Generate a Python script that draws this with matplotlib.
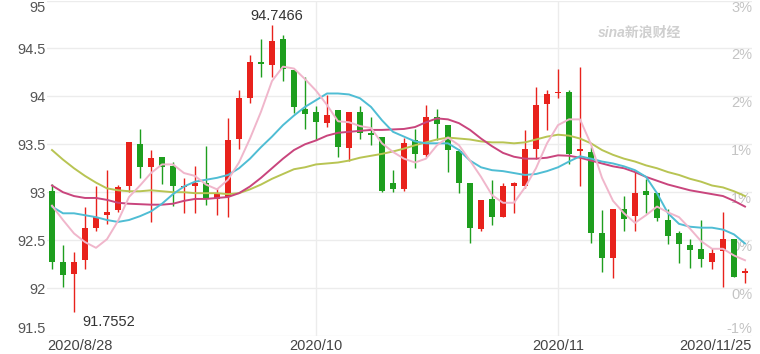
import matplotlib
matplotlib.use("Agg")
import matplotlib.pyplot as plt
from matplotlib.transforms import ScaledTranslation

plt.rcParams['font.family'] = ['Liberation Sans', 'Noto Sans CJK SC', 'DejaVu Sans']

# ---- data ----
opens = [93.01, 92.27, 92.15, 92.29, 92.63, 92.76, 92.81, 93.06, 93.50, 93.26,
         93.37, 93.27, 93.05, 93.07, 93.10, 92.93, 92.95, 93.55, 93.98, 94.36,
         94.33, 94.60, 94.28, 93.87, 93.84, 93.72, 93.86, 93.46, 93.84, 93.62,
         93.58, 93.10, 93.03, 93.54, 93.39, 93.78, 93.70, 93.43, 93.10, 92.62,
         92.93, 92.74, 93.07, 93.06, 93.45, 93.92, 94.03, 94.05, 93.43, 93.42,
         92.57, 92.31, 92.83, 92.75, 93.01, 92.99, 92.71, 92.57, 92.45, 92.41,
         92.27, 92.39, 92.51, 92.16]
closes = [92.27, 92.14, 92.27, 92.63, 92.74, 92.79, 93.05, 93.52, 93.26, 93.36,
          93.26, 93.06, 93.07, 93.10, 92.93, 92.99, 93.54, 93.98, 94.36, 94.34,
          94.58, 94.29, 93.89, 93.82, 93.73, 93.81, 93.47, 93.84, 93.62, 93.60,
          93.01, 93.03, 93.51, 93.40, 93.78, 93.71, 93.44, 93.10, 92.63, 92.92,
          92.74, 93.06, 93.10, 93.45, 93.91, 94.02, 94.04, 93.40, 93.45, 92.57,
          92.31, 92.83, 92.72, 92.99, 92.97, 92.73, 92.54, 92.46, 92.40, 92.30,
          92.37, 92.51, 92.12, 92.17]
highs = [93.09, 92.45, 92.38, 92.85, 93.06, 93.23, 93.08, 93.52, 93.66, 93.44,
         93.37, 93.31, 93.15, 93.27, 93.48, 93.04, 93.77, 94.07, 94.43, 94.60,
         94.7466, 94.64, 94.28, 94.20, 93.90, 94.01, 93.86, 93.84, 93.90, 93.78,
         93.58, 93.23, 93.57, 93.66, 93.91, 93.87, 93.70, 93.45, 93.10, 92.92,
         93.125, 93.10, 93.11, 93.65, 94.10, 94.07, 94.29, 94.07, 94.31, 93.47,
         92.81, 92.83, 92.96, 93.21, 93.14, 92.99, 92.83, 92.60, 92.51, 92.71,
         92.42, 92.79, 92.51, 92.21]
lows = [92.20, 92.01, 91.7552, 92.20, 92.60, 92.67, 92.79, 93.00, 93.15, 92.69,
        93.09, 92.86, 92.78, 92.78, 92.87, 92.76, 92.74, 93.45, 93.93, 94.20,
        94.20, 94.16, 93.83, 93.66, 93.54, 93.68, 93.37, 93.33, 93.56, 93.49,
        93.00, 93.00, 93.01, 93.25, 93.37, 93.54, 93.21, 92.99, 92.47, 92.60,
        92.66, 92.74, 92.78, 93.04, 93.35, 93.65, 93.98, 93.29, 93.06, 92.47,
        92.17, 92.11, 92.60, 92.60, 92.78, 92.70, 92.46, 92.26, 92.21, 92.22,
        92.20, 92.01, 92.12, 92.05]

ma5 = [92.86, 92.71, 92.57, 92.48, 92.42, 92.51, 92.70, 92.95, 93.07, 93.20,
       93.29, 93.29, 93.20, 93.17, 93.08, 93.03, 93.13, 93.31, 93.56, 93.84,
       94.16, 94.31, 94.29, 94.18, 94.06, 93.91, 93.74, 93.73, 93.69, 93.67,
       93.51, 93.42, 93.35, 93.31, 93.35, 93.49, 93.57, 93.49, 93.33, 93.16,
       92.97, 92.89, 92.89, 93.05, 93.25, 93.51, 93.70, 93.76, 93.76, 93.50,
       93.15, 92.91, 92.78, 92.68, 92.76, 92.85, 92.79, 92.74, 92.62, 92.49,
       92.41, 92.41, 92.34, 92.29]
ma10 = [92.85, 92.78, 92.78, 92.76, 92.74, 92.71, 92.69, 92.71, 92.75, 92.80,
        92.88, 92.98, 93.06, 93.11, 93.13, 93.15, 93.18, 93.25, 93.35, 93.47,
        93.58, 93.70, 93.80, 93.89, 93.96, 94.03, 94.03, 94.02, 93.98, 93.89,
        93.75, 93.63, 93.58, 93.53, 93.51, 93.51, 93.51, 93.44, 93.33, 93.26,
        93.23, 93.22, 93.20, 93.18, 93.19, 93.22, 93.26, 93.32, 93.375, 93.35,
        93.32, 93.30, 93.27, 93.23, 93.16, 92.99, 92.78, 92.67, 92.64, 92.63,
        92.63, 92.61, 92.56, 92.465]
ma20 = [93.07, 93.00, 92.96, 92.94, 92.94, 92.92, 92.89, 92.88, 92.875, 92.87,
        92.87, 92.88, 92.91, 92.93, 92.93, 92.94, 92.95, 92.99, 93.06, 93.15,
        93.25, 93.35, 93.44, 93.50, 93.54, 93.59, 93.62, 93.63, 93.64, 93.65,
        93.65, 93.655, 93.66, 93.68, 93.73, 93.77, 93.76, 93.72, 93.65, 93.56,
        93.48, 93.41, 93.37, 93.35, 93.35, 93.36, 93.385, 93.38, 93.36, 93.33,
        93.30, 93.27, 93.25, 93.21, 93.16, 93.12, 93.08, 93.05, 93.02, 93.00,
        92.98, 92.96, 92.91, 92.85]
ma30 = [93.44, 93.34, 93.25, 93.17, 93.10, 93.04, 93.02, 93.01, 93.01, 93.02,
        93.01, 93.00, 93.00, 92.99, 92.99, 92.99, 92.98, 92.99, 93.03, 93.08,
        93.14, 93.19, 93.24, 93.26, 93.29, 93.30, 93.31, 93.33, 93.36, 93.38,
        93.40, 93.425, 93.455, 93.49, 93.52, 93.55, 93.57, 93.56, 93.55, 93.53,
        93.52, 93.52, 93.51, 93.52, 93.55, 93.58, 93.60, 93.59, 93.56, 93.51,
        93.44, 93.39, 93.35, 93.32, 93.28, 93.25, 93.21, 93.18, 93.14, 93.11,
        93.07, 93.05, 93.01, 92.96]

tick_idx = [0, 24, 46, 63]
tick_labels = ['2020/8/28', '2020/10', '2020/11', '2020/11/25']
y_ticks = [91.5, 92.0, 92.5, 93.0, 93.5, 94.0, 94.5, 95.0]
y_labels = ['91.5', '92', '92.5', '93', '93.5', '94', '94.5', '95']
pct_labels = ['-1%', '0%', '0%', '1%', '1%', '2%', '2%', '3%']

RED = '#e8221c'
GREEN = '#1e9e1e'

W, H = 760, 354
fig = plt.figure(figsize=(W / 100, H / 100), dpi=100)
ax_l, ax_r, ax_t, ax_b = 47, 752, 0.5, 336
ax = fig.add_axes([ax_l / W, 1 - ax_b / H, (ax_r - ax_l) / W, (ax_b - ax_t) / H])

n = len(closes)
xs = list(range(n))
x0 = -5 / 11
ax.set_xlim(x0, x0 + (ax_r - ax_l) / 11)
ax.set_ylim(91.5, 95.0)

for s in ax.spines.values():
    s.set_visible(False)

# grid
ax.set_yticks(y_ticks)
ax.set_yticklabels(y_labels)
ax.yaxis.grid(True, color='#ececec', lw=1)
ax.set_axisbelow(True)
for t in tick_idx[1:3]:
    ax.axvline(t, color='#ececec', lw=1, zorder=0)
ax.tick_params(axis='y', length=0, pad=1, labelsize=10.5, labelcolor='#555555')
ylabs = ax.get_yticklabels()
ylabs[0].set_va('bottom')
ylabs[-1].set_va('top')

ax.set_xticks(tick_idx)
ax.set_xticklabels(tick_labels)
ax.tick_params(axis='x', length=0, pad=2, labelsize=10.5, labelcolor='#444444')
xl = ax.get_xticklabels()
xl[0].set_ha('left')
xl[0].set_transform(xl[0].get_transform() + ScaledTranslation(-0.05, 0, fig.dpi_scale_trans))
xl[-1].set_ha('right')
xl[-1].set_transform(xl[-1].get_transform() + ScaledTranslation(0.07, 0, fig.dpi_scale_trans))

# right percent labels
for yv, lab in zip(y_ticks, pct_labels):
    va = 'bottom' if yv == y_ticks[0] else 'top'
    ax.text(1.0, yv, lab, transform=ax.get_yaxis_transform(), ha='right', va=va,
            fontsize=10.5, color='#c4c4c4', zorder=1)

# watermark
ax.text(0.84, 0.905, 'sina新浪财经', transform=ax.transAxes, ha='center', va='center',
        fontsize=10, color='#cfcfcf', style='italic', fontweight='bold', zorder=1,
        family=['Liberation Sans', 'Noto Sans CJK SC'])

# candles
for i in xs:
    o, c, h, l = opens[i], closes[i], highs[i], lows[i]
    col = RED if c >= o else GREEN
    ax.vlines(i, l, h, color=col, lw=1.0, zorder=2)
    bot = min(o, c)
    hgt = max(abs(c - o), 0.02)
    ax.bar(i, hgt, bottom=bot, width=0.58, color=col, lw=0, zorder=3)

# moving averages
ax.plot(xs, ma30, color='#b8c453', lw=1.4, zorder=4)
ax.plot(xs, ma20, color='#c9457d', lw=1.4, zorder=4)
ax.plot(xs, ma10, color='#4fbdd4', lw=1.4, zorder=4)
ax.plot(xs, ma5, color='#f0b6cb', lw=1.4, zorder=4)

# high / low annotations
imax = max(xs, key=lambda k: highs[k])
imin = min(xs, key=lambda k: lows[k])
ax.annotate(f'{highs[imax]:.4f}', xy=(imax, highs[imax]), xytext=(5, 2),
            textcoords='offset pixels', ha='center', va='bottom',
            fontsize=10.5, color='#333333', zorder=5)
ax.annotate(f'{lows[imin]:.4f}', xy=(imin, lows[imin]), xytext=(8, -10),
            textcoords='offset pixels', ha='left', va='center',
            fontsize=10.5, color='#333333', zorder=5)

fig.savefig('out.png', dpi=100, facecolor='white')
